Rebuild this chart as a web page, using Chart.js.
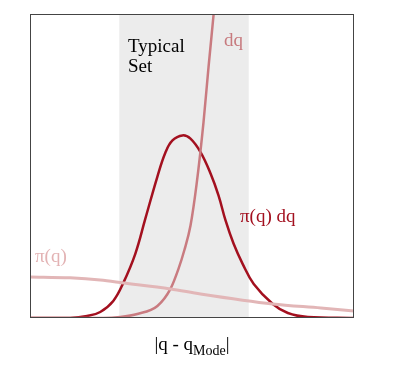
<!DOCTYPE html>
<html>
<head>
<meta charset="utf-8">
<script src="https://cdn.jsdelivr.net/npm/chart.js@4"></script>
<style>
    html, body { margin: 0; padding: 0; background: #fff; }
    #wrap { position: relative; width: 401px; height: 368px; font-family: "Liberation Serif", "DejaVu Serif", serif; }
    #chart { position: absolute; left: 0; top: 0; }
    .lbl { position: absolute; font-size: 19px; line-height: 20px; white-space: nowrap; }
    #xlabel { position: absolute; left: 30px; width: 324px; top: 334px; text-align: center; font-size: 19px; line-height: 20px; color: #000; }
    #xlabel sub { font-size: 14px; vertical-align: -5px; line-height: 0; }
</style>
</head>
<body>
<div id="wrap">
    <canvas id="chart" width="401" height="368"></canvas>
    <div class="lbl" style="left:128px; top:36px; color:#000;">Typical<br>Set</div>
    <div class="lbl" style="left:224px; top:30px; color:#c77a7e;">dq</div>
    <div class="lbl" style="left:240px; top:206px; color:#a3101f;">π(q) dq</div>
    <div class="lbl" style="left:35px; top:246px; color:#e3b3b4;">π(q)</div>
    <div id="xlabel">|q - q<sub>Mode</sub>|</div>
</div>
<script>
// Values (x = |q - q_mode|, y = density, 0..1)
const piX = [0, 0.495, 0.867, 1.152, 1.734, 2.105, 2.997, 3.591, 4.0];
const piY = [0.135, 0.132, 0.125, 0.1155, 0.0957, 0.0792, 0.0462, 0.033, 0.0231];

const dqX = [0, 0.904, 1.115, 1.325, 1.573, 1.734, 1.833, 1.907, 1.981, 2.056, 2.142, 2.204, 2.266, 2.303];
const dqY = [0, 0, 0.0033, 0.0132, 0.0396, 0.0957, 0.1617, 0.2244, 0.3036, 0.4389, 0.6436, 0.8251, 0.9967, 1.106];

const typX = [0, 0.495, 0.706, 0.867, 1.028, 1.152, 1.300, 1.424, 1.573, 1.672, 1.759, 1.882,
    1.981, 2.105, 2.229, 2.328, 2.415, 2.514, 2.625, 2.762, 2.997, 3.183, 3.430, 4.0];
const typY = [0, 0, 0.0066, 0.0198, 0.0561, 0.1155, 0.2112, 0.3267, 0.4653, 0.5446, 0.5842, 0.6007,
    0.5898, 0.5455, 0.4752, 0.4026, 0.3201, 0.2442, 0.1782, 0.1122, 0.0462, 0.0165, 0.0033, 0];

// Typical set band
const bandStart = 1.102;
const bandEnd = 2.700;

const toPoints = (xs, ys) => xs.map((x, i) => ({ x, y: ys[i] }));

// Grey band behind the curves, frame on top
const framePlugin = {
    id: 'frame',
    beforeDatasetsDraw(chart) {
        const { ctx, chartArea, scales } = chart;
        const x0 = scales.x.getPixelForValue(bandStart);
        const x1 = scales.x.getPixelForValue(bandEnd);
        ctx.save();
        ctx.fillStyle = '#ececec';
        ctx.fillRect(x0, chartArea.top, x1 - x0, chartArea.bottom - chartArea.top);
        ctx.restore();
    },
    afterDatasetsDraw(chart) {
        const { ctx, chartArea } = chart;
        ctx.save();
        ctx.strokeStyle = '#444';
        ctx.lineWidth = 1;
        ctx.strokeRect(chartArea.left + 0.5, chartArea.top + 0.5,
            chartArea.right - chartArea.left - 1, chartArea.bottom - chartArea.top - 1);
        ctx.restore();
    }
};

const line = (data, color, width, smooth) => ({
    data,
    borderColor: color,
    borderWidth: width,
    pointRadius: 0,
    fill: false,
    cubicInterpolationMode: smooth ? 'default' : 'monotone',
    tension: 0.4
});

new Chart(document.getElementById('chart'), {
    type: 'line',
    data: {
        datasets: [
            line(toPoints(piX, piY), '#e2b6b7', 3),
            line(toPoints(dqX, dqY), '#c97b80', 2.5),
            line(toPoints(typX, typY), '#a3101f', 2.5, true)
        ]
    },
    options: {
        responsive: false,
        animation: false,
        layout: { padding: { left: 30, right: 47, top: 14, bottom: 50 } },
        plugins: { legend: { display: false }, tooltip: { enabled: false } },
        scales: {
            x: { type: 'linear', min: 0, max: 4, display: false },
            y: { type: 'linear', min: 0, max: 1, display: false }
        }
    },
    plugins: [framePlugin]
});
</script>
</body>
</html>
